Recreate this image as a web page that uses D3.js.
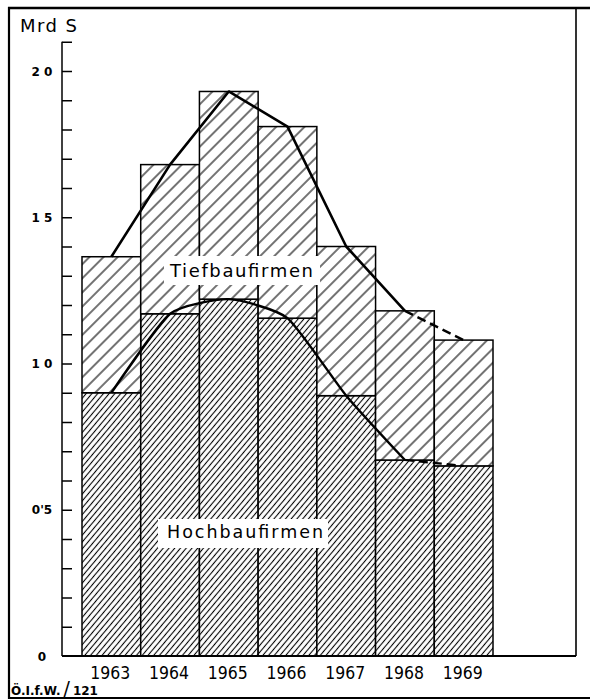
<!DOCTYPE html>
<html>
<head>
<meta charset="utf-8">
<script src="https://cdn.jsdelivr.net/npm/d3@7"></script>
<style>
  html, body { margin: 0; padding: 0; background: #fff; }
  svg { display: block; }
  text { font-family: "DejaVu Sans", sans-serif; fill: #000; }
</style>
</head>
<body>
<svg id="chart" width="590" height="700"></svg>
<script>
// ---- data (Mrd S) ----
const years = ["1963", "1964", "1965", "1966", "1967", "1968", "1969"];
const hochbau = [0.90, 1.17, 1.22, 1.155, 0.89, 0.67, 0.65];   // Hochbaufirmen
const tiefbau = [0.465, 0.51, 0.71, 0.655, 0.51, 0.51, 0.43];  // Tiefbaufirmen (stacked on top)
const yTickValues = [0, 0.5, 1.0, 1.5, 2.0];
const yTickLabels = ["0", "0'5", "1 0", "1 5", "2 0"];
const yMinorTicks = d3.range(1, 22).map(d => d / 10);
const unitLabel = "Mrd S";
const seriesLabels = ["Hochbaufirmen", "Tiefbaufirmen"];
const sourceLabel = ["Ö.I.f.W.", "/", "121"];

const svg = d3.select("#chart");
const defs = svg.append("defs");

function hatch(id, spacing, angle, sw) {
  const p = defs.append("pattern")
    .attr("id", id)
    .attr("patternUnits", "userSpaceOnUse")
    .attr("width", spacing).attr("height", spacing)
    .attr("patternTransform", `rotate(${angle})`);
  p.append("rect").attr("width", spacing).attr("height", spacing).attr("fill", "#fff");
  p.append("line").attr("x1", spacing / 2).attr("x2", spacing / 2)
    .attr("y1", 0).attr("y2", spacing)
    .attr("stroke", "#000").attr("stroke-width", sw);
}
hatch("hatchDense", 4.4, 40, 1.1);
hatch("hatchWide", 10, 45, 1.1);

// ---- scales ----
const x = d3.scaleBand().domain(years).range([82, 493]).padding(0);
const y = d3.scaleLinear().domain([0, 2.1]).range([656, 656 - 2.1 * 292.5]);

const table = years.map((yr, i) => ({ year: yr, hochbau: hochbau[i], tiefbau: tiefbau[i] }));
const stack = d3.stack().keys(["hochbau", "tiefbau"])(table);
const fills = { hochbau: "url(#hatchDense)", tiefbau: "url(#hatchWide)" };

// ---- bars ----
const gBars = svg.append("g");
stack.forEach(layer => {
  gBars.selectAll(null).data(layer).enter().append("rect")
    .attr("x", d => x(d.data.year))
    .attr("width", x.bandwidth())
    .attr("y", d => y(d[1]))
    .attr("height", d => y(d[0]) - y(d[1]))
    .attr("fill", fills[layer.key])
    .attr("stroke", "#000")
    .attr("stroke-width", 1.5);
});

// ---- trend lines ----
const cx = yr => x(yr) + x.bandwidth() / 2;
const upperPts = stack[1].map(d => [cx(d.data.year), y(d[1])]);
const lowerPts = stack[0].map(d => [cx(d.data.year), y(d[1])]);
const lineUpper = d3.line().curve(d3.curveLinear);
const lineLower = d3.line().curve(d3.curveCardinal.tension(0.45));
const n = years.length;

svg.append("path").attr("d", lineUpper(upperPts.slice(0, n - 1)))
  .attr("fill", "none").attr("stroke", "#000").attr("stroke-width", 2.6).attr("stroke-linejoin", "round");
svg.append("path").attr("d", lineUpper(upperPts.slice(n - 2)))
  .attr("fill", "none").attr("stroke", "#000").attr("stroke-width", 2.4).attr("stroke-dasharray", "9,5");
svg.append("path").attr("d", lineLower(lowerPts.slice(0, n - 1)))
  .attr("fill", "none").attr("stroke", "#000").attr("stroke-width", 2.4).attr("stroke-linejoin", "round");
svg.append("path").attr("d", lineUpper(lowerPts.slice(n - 2)))
  .attr("fill", "none").attr("stroke", "#000").attr("stroke-width", 2.2).attr("stroke-dasharray", "9,5");

// ---- series labels with white boxes ----
function boxLabel(txt, bx, by, bw, bh, tx, ty, fs, len) {
  svg.append("rect").attr("x", bx).attr("y", by).attr("width", bw).attr("height", bh).attr("fill", "#fff");
  svg.append("text").attr("x", tx).attr("y", ty)
    .attr("font-size", fs)
    .attr("textLength", len).attr("lengthAdjust", "spacing")
    .text(txt);
}
boxLabel(seriesLabels[1], 164, 256, 156, 29, 170, 277, 18, 143);
boxLabel(seriesLabels[0], 158, 519, 170, 29, 167, 538, 17.5, 156);

// ---- y axis ----
const gAxis = svg.append("g").attr("transform", "translate(62,0)");
gAxis.call(d3.axisRight(y).tickValues(yMinorTicks).tickSize(10).tickFormat(""));
gAxis.select(".domain").remove();
gAxis.selectAll(".tick line").attr("stroke", "#000").attr("stroke-width", 1.5);
svg.append("line").attr("x1", 62).attr("x2", 62).attr("y1", y(2.1)).attr("y2", y(0))
  .attr("stroke", "#000").attr("stroke-width", 1.5);

svg.append("g").selectAll("text").data(yTickValues).enter().append("text")
  .attr("x", 42).attr("y", d => y(d) + 4.5)
  .attr("text-anchor", "middle")
  .attr("font-size", 12).attr("font-weight", "bold")
  .text((d, i) => yTickLabels[i]);

svg.append("text").attr("x", 20).attr("y", 32).attr("font-size", 18)
  .attr("textLength", 57).attr("lengthAdjust", "spacing").text(unitLabel);

// ---- x axis ----
svg.append("line").attr("x1", 62).attr("x2", 576).attr("y1", y(0)).attr("y2", y(0))
  .attr("stroke", "#000").attr("stroke-width", 1.8);
svg.append("g").selectAll("text").data(years).enter().append("text")
  .attr("x", d => cx(d) - 1).attr("y", 678.5)
  .attr("text-anchor", "middle")
  .attr("font-size", 18.5)
  .attr("textLength", 40).attr("lengthAdjust", "spacingAndGlyphs")
  .text(d => d);

// ---- frame ----
const frame = svg.append("g").attr("stroke", "#000").attr("fill", "none");
frame.append("line").attr("x1", 8).attr("x2", 590).attr("y1", 8).attr("y2", 8).attr("stroke-width", 2.5);
frame.append("line").attr("x1", 9).attr("x2", 9).attr("y1", 7).attr("y2", 699).attr("stroke-width", 2.2);
frame.append("line").attr("x1", 8).attr("x2", 590).attr("y1", 698).attr("y2", 698).attr("stroke-width", 2);
frame.append("line").attr("x1", 576).attr("x2", 576).attr("y1", 8).attr("y2", y(0)).attr("stroke-width", 1.6);

// ---- source ----
const src = svg.append("text").attr("x", 11).attr("y", 695).attr("font-weight", "bold");
src.append("tspan").attr("font-size", 12).text(sourceLabel[0]);
src.append("tspan").attr("font-size", 19).attr("font-weight", "normal").attr("dx", 3).text(sourceLabel[1]);
src.append("tspan").attr("font-size", 12).attr("dx", 3).text(sourceLabel[2]);
</script>
</body>
</html>
